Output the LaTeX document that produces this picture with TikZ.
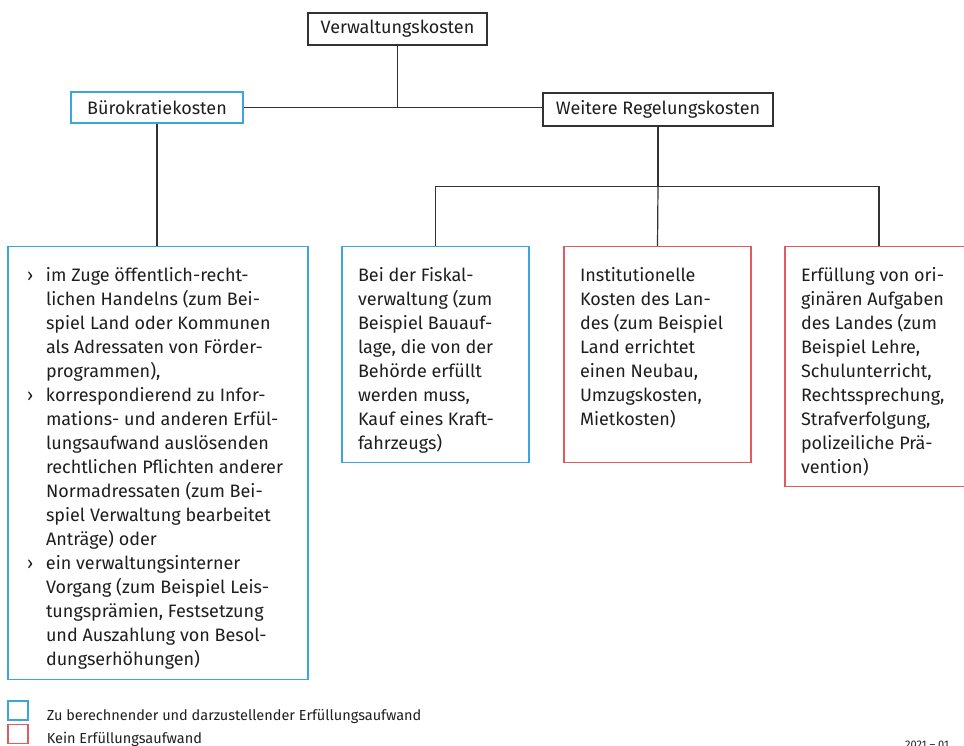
\documentclass[tikz,border=0pt]{standalone}
\usepackage{fontspec}
\setmainfont{Fira Sans}
\usetikzlibrary{positioning}
\definecolor{kostblau}{RGB}{58,166,221}
\definecolor{kostrot}{RGB}{224,90,95}
\definecolor{linie}{RGB}{50,50,50}
\definecolor{schrift}{RGB}{30,30,30}
\newcommand{\boxfont}{\fontsize{18}{24}\selectfont}
\newcommand{\kbul}{\makebox[22pt][l]{\hspace{3pt}›}}
\newcommand{\kind}{\hspace*{22pt}}
\newcommand{\kinhalt}[3]{\parbox[c][#2][t]{#1}{\raggedright\rule{0pt}{35pt}#3}}

\begin{document}
\begin{tikzpicture}[x=1pt, y=-1pt,
kopfnode/.style={rectangle, draw=#1, line width=1.2pt, inner sep=0pt, font=\boxfont, text=schrift},
kostnode/.style={rectangle, draw=#1, line width=1.2pt, anchor=north, inner xsep=16pt, inner ysep=0pt, font=\boxfont, text=schrift},
legnode/.style={rectangle, draw=#1, line width=1.2pt, minimum width=20pt, minimum height=19pt, inner sep=0pt},
legtext/.style={inner sep=0pt, font=\fontsize{14.5}{17}\selectfont, text=schrift},
verbinder/.style={draw=linie, line width=1.2pt}
]
\clip (0,0) rectangle (964,746);

%Nodes
\node[kopfnode=linie, minimum width=179pt, minimum height=32pt] (verw_node) at (397.5,29) {Verwaltungskosten};
\node[kopfnode=kostblau, minimum width=172pt, minimum height=31pt] (buero_node) at (157,107.5) {Bürokratiekosten};
\node[kopfnode=linie, minimum width=230pt, minimum height=33pt] (weitere_node) at (658,109.5) {Weitere Regelungskosten};

\node[kostnode=kostblau] (erfuellung_node) at (158,246) {\kinhalt{268pt}{433pt}{%
\kbul im Zuge öffentlich-recht-\\
\kind lichen Handelns (zum Bei-\\
\kind spiel Land oder Kommunen\\
\kind als Adressaten von Förder-\\
\kind programmen),\\
\kbul korrespondierend zu Infor-\\
\kind mations- und anderen Erfül-\\
\kind lungsaufwand auslösenden\\
\kind rechtlichen Pflichten anderer\\
\kind Normadressaten (zum Bei-\\
\kind spiel Verwaltung bearbeitet\\
\kind Anträge) oder\\
\kbul ein verwaltungsinterner\\
\kind Vorgang (zum Beispiel Leis-\\
\kind tungsprämien, Festsetzung\\
\kind und Auszahlung von Besol-\\
\kind dungserhöhungen)}};
\node[kostnode=kostblau] (fiskal_node) at (435.5,246) {\kinhalt{155pt}{216pt}{%
Bei der Fiskal-\\
verwaltung (zum\\
Beispiel Bauauf-\\
lage, die von der\\
Behörde erfüllt\\
werden muss,\\
Kauf eines Kraft-\\
fahrzeugs)}};
\node[kostnode=kostrot] (institution_node) at (657.5,246) {\kinhalt{155pt}{216pt}{%
Institutionelle\\
Kosten des Lan-\\
des (zum Beispiel\\
Land errichtet\\
einen Neubau,\\
Umzugskosten,\\
Mietkosten)}};
\node[kostnode=kostrot] (aufgaben_node) at (879,246) {\kinhalt{156pt}{240pt}{%
Erfüllung von ori-\\
ginären Aufgaben\\
des Landes (zum\\
Beispiel Lehre,\\
Schulunterricht,\\
Rechtssprechung,\\
Strafverfolgung,\\
polizeiliche Prä-\\
vention)}};

\coordinate (verteiler) at ([yshift=-60pt]weitere_node.south);

%Legend
\node[legnode=kostblau] (legblau_node) at (18,710.5) {};
\node[legnode=kostrot]  (legrot_node)  [below=3pt of legblau_node] {};
\node[legtext] (legblau_text) [right=18pt of legblau_node.south east, anchor=base west] {Zu berechnender und darzustellender Erfüllungsaufwand};
\node[legtext] (legrot_text)  [right=18pt of legrot_node.south east, anchor=base west] {Kein Erfüllungsaufwand};
\node[inner sep=0pt, anchor=north west, font=\fontsize{11}{13}\selectfont, text=schrift] (stand_node) at (905,741) {2021 -- 01};

%Lines
\draw[verbinder] (verw_node.south) -- (verw_node.south |- buero_node.east);
\draw[verbinder] (buero_node.east) -- (weitere_node.west |- buero_node.east);
\draw[verbinder] (buero_node.south) -- (buero_node.south |- erfuellung_node.north);
\draw[verbinder] (weitere_node.south) -- (verteiler);
\draw[verbinder] (fiskal_node.north) |- (verteiler) -| (aufgaben_node.north);
\draw[verbinder] (verteiler) -- (institution_node.north);

\end{tikzpicture}
\end{document}
